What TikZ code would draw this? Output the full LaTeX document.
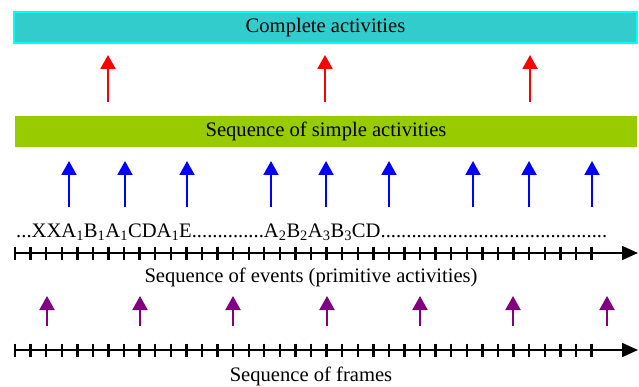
\documentclass[tikz,border=0pt]{standalone}
\usepackage{fontspec}
\setmainfont{Liberation Serif}
\usepackage{xcolor}
\usetikzlibrary{arrows.meta, positioning, calc}
\definecolor{boxcyan}{HTML}{33CCCC}
\definecolor{edgecyan}{HTML}{00FFFF}
\definecolor{boxgreen}{HTML}{99CC00}
\definecolor{framepurple}{HTML}{800080}

\begin{document}
\begin{tikzpicture}[x=1pt, y=-1pt, font=\fontsize{20.6}{24}\selectfont,
    uparrow/.style={line width=2pt, -{Triangle[width=15pt, length=14pt]}},
    axis/.style={line width=1.8pt, -{Triangle[width=14pt, length=16pt]}},
    tick/.style={line width=2.4pt}]
      \useasboundingbox (0,0) rectangle (639,387);

      \draw[edgecyan, line width=2pt, fill=boxcyan] (14,12) rectangle (637,43) node[pos=.5, black] (complete) {Complete activities};
      \foreach \x in {108, 325, 530}
        \draw[uparrow, red] (\x,102) -- (\x,55);

      \fill[boxgreen] (15,116) rectangle (637,147) node[pos=.5, black] (simple) {Sequence of simple activities};
      \foreach \x in {69, 125, 187, 271, 326, 389, 473, 529, 592}
        \draw[uparrow, blue] (\x,207) -- (\x,161);

      \node[anchor=base west, inner sep=0pt] (events) at (16,237) {...XXA\textsubscript{1}B\textsubscript{1}A\textsubscript{1}CDA\textsubscript{1}E..............A\textsubscript{2}B\textsubscript{2}A\textsubscript{3}B\textsubscript{3}CD............................................};

      % events axis
      \coordinate (ev0) at (15,253);
      \coordinate (ev1) at (638,253);
      \draw[axis] (ev0) -- (ev1);
      \foreach \i in {0,...,37}
        \draw[tick] ($(ev0)+(\i*15.58,-6.5)$) -- ++(0,13);
      \node[anchor=base] (evlabel) at (311,282) {Sequence of events (primitive activities)};

      \foreach \x in {47, 140, 233, 327, 420, 513, 607}
        \draw[uparrow, framepurple] (\x,326) -- (\x,296);

      % frames axis
      \coordinate (fr0) at (15,350);
      \coordinate (fr1) at (638,350);
      \draw[axis] (fr0) -- (fr1);
      \foreach \i in {0,...,37}
        \draw[tick] ($(fr0)+(\i*15.58,-6.5)$) -- ++(0,13);
      \node[anchor=base] (frlabel) at (311,381) {Sequence of frames};

\end{tikzpicture}
\end{document}
